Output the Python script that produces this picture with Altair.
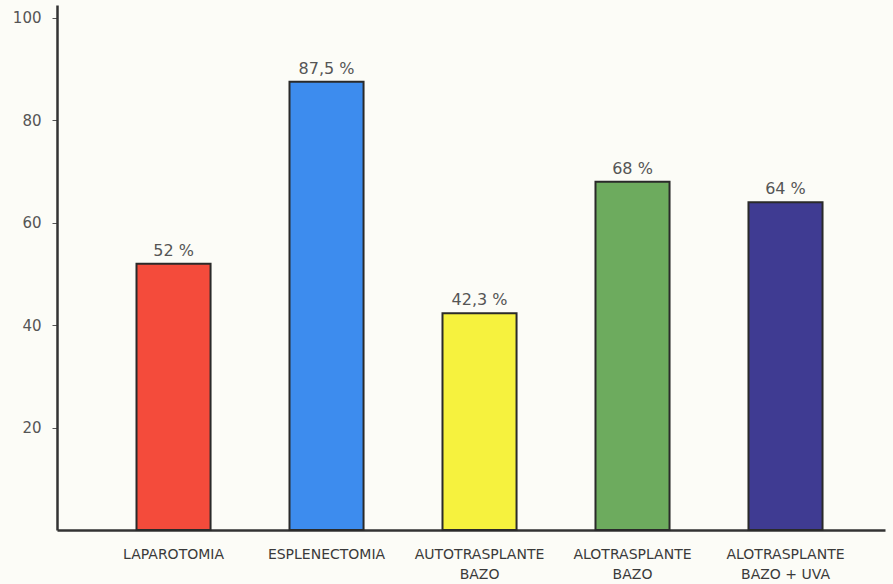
import altair as alt
import pandas as pd

categories = ["LAPAROTOMIA", "ESPLENECTOMIA", "AUTOTRASPLANTE|BAZO",
              "ALOTRASPLANTE|BAZO", "ALOTRASPLANTE|BAZO + UVA"]
values = [52, 87.5, 42.3, 68, 64]
labels = ["52 %", "87,5 %", "42,3 %", "68 %", "64 %"]
colors = ["#f44b3b", "#3d8cee", "#f6f23e", "#6dab5e", "#3f3b92"]
y_ticks = [20, 40, 60, 80, 100]

df = pd.DataFrame({"cat": categories, "val": values, "lab": labels, "col": colors})

x = alt.X("cat:N", sort=categories, title=None,
          scale=alt.Scale(paddingInner=0.516, paddingOuter=0.464, align=0.56),
          axis=alt.Axis(labelExpr="split(datum.value, '|')", labelAngle=0,
                        ticks=False, labelPadding=17, labelFontSize=14,
                        labelColor="#3a3a3a", labelFont="DejaVu Sans",
                        domainColor="#333", domainWidth=2.5, labelLineHeight=20))
y = alt.Y("val:Q", title=None,
          scale=alt.Scale(domain=[0, 102.5], nice=False),
          axis=alt.Axis(values=y_ticks, grid=False, tickSize=5, tickColor="#555",
                        labelPadding=11, labelFontSize=15, labelColor="#555",
                        labelFont="DejaVu Sans",
                        domainColor="#333", domainWidth=2.5))

bars = alt.Chart(df).mark_bar(stroke="#2a2a2a", strokeWidth=2).encode(
    x=x, y=y, color=alt.Color("col:N", scale=None))
text = alt.Chart(df).mark_text(dy=-13, fontSize=16, color="#555",
                               font="DejaVu Sans").encode(
    x=alt.X("cat:N", sort=categories), y="val:Q", text="lab:N")

chart = (bars + text).properties(
    width=828, height=525,
    padding={"left": 57, "top": 5, "right": 8, "bottom": 54},
    autosize=alt.AutoSizeParams(type="none"),
    background="#fcfcf7",
).configure_view(stroke=None)

chart.save("out.html", embed_options={"renderer": "svg", "actions": False})
